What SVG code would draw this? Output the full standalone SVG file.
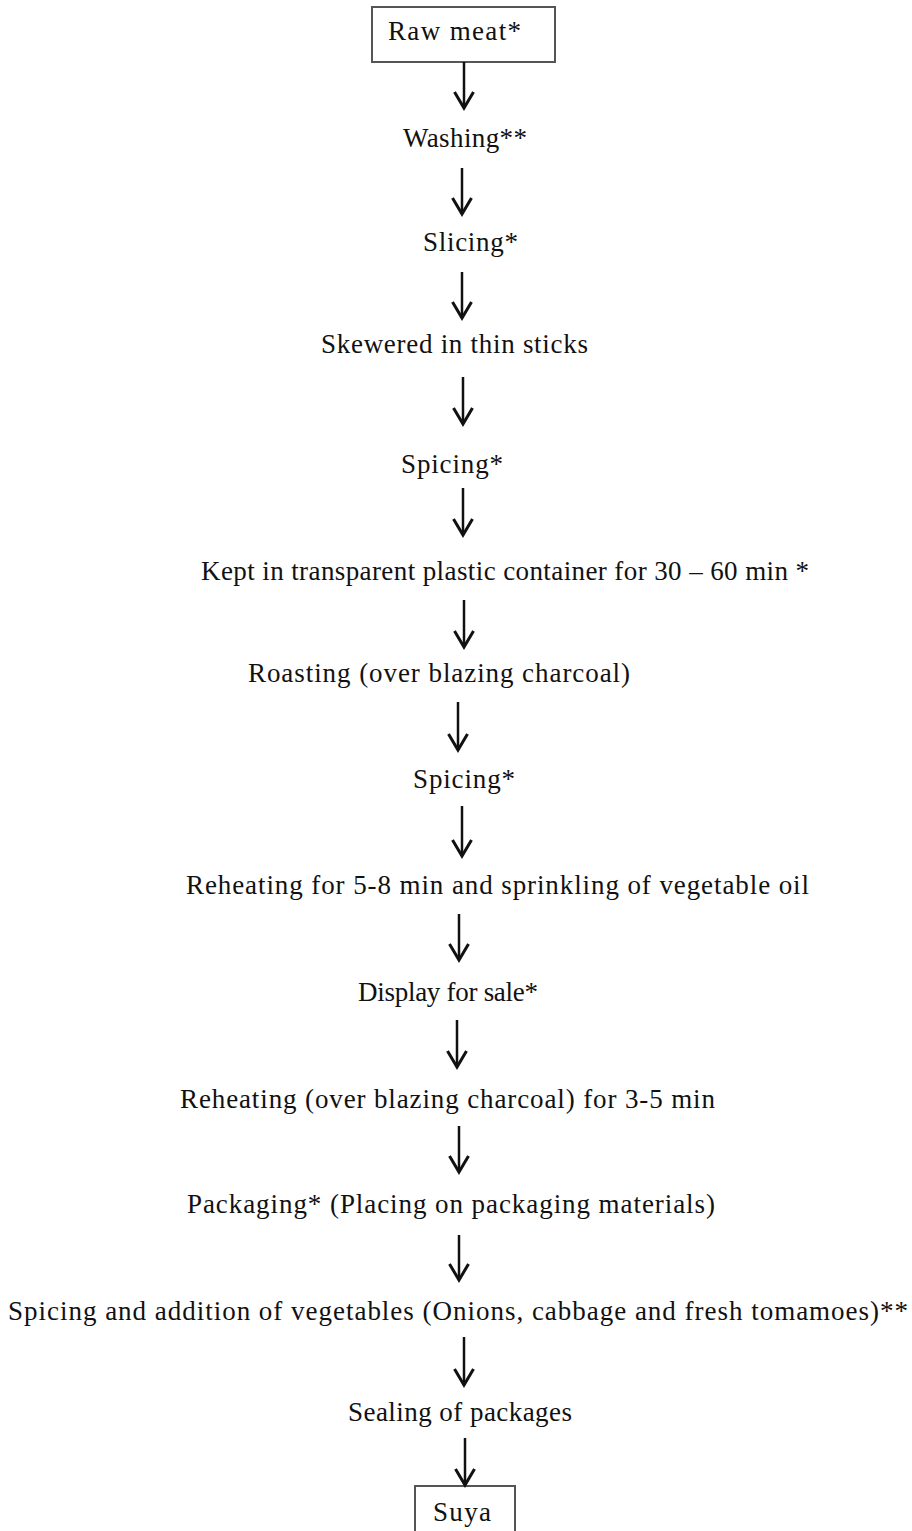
<svg xmlns="http://www.w3.org/2000/svg" width="912" height="1531" viewBox="0 0 912 1531">
<style>
  .t { font-family: "Liberation Serif", "Times New Roman", serif; font-size: 27px; fill: #111; }
  .box { fill: #fff; stroke: #555; stroke-width: 2; }
  .arr { stroke: #111; stroke-width: 2.5; fill: none; marker-end: url(#ah); }
</style>
<defs>
  <marker id="ah" markerUnits="userSpaceOnUse" viewBox="-18 -11 20 22" refX="0" refY="0" markerWidth="20" markerHeight="22" orient="auto" overflow="visible">
    <path d="M-16,-9.5 L0,0 L-16,9.5" fill="none" stroke="#111" stroke-width="3" stroke-linejoin="miter"/>
  </marker>
</defs>
<rect width="912" height="1531" fill="#fff"/>
<g id="n1"><rect class="box" x="372" y="7" width="183" height="55"/><text class="t" x="388" y="40" textLength="133" lengthAdjust="spacing">Raw meat*</text></g>
<g id="n2"><text class="t" x="403" y="147" textLength="124" lengthAdjust="spacing">Washing**</text></g>
<g id="n3"><text class="t" x="423" y="251" textLength="95" lengthAdjust="spacing">Slicing*</text></g>
<g id="n4"><text class="t" x="321" y="353" textLength="267" lengthAdjust="spacing">Skewered in thin sticks</text></g>
<g id="n5"><text class="t" x="401" y="473" textLength="102" lengthAdjust="spacing">Spicing*</text></g>
<g id="n6"><text class="t" x="201" y="580" textLength="608" lengthAdjust="spacing">Kept in transparent plastic container for 30 – 60 min *</text></g>
<g id="n7"><text class="t" x="248" y="682" textLength="382" lengthAdjust="spacing">Roasting (over blazing charcoal)</text></g>
<g id="n8"><text class="t" x="413" y="788" textLength="102" lengthAdjust="spacing">Spicing*</text></g>
<g id="n9"><text class="t" x="186" y="894" textLength="623" lengthAdjust="spacing">Reheating for 5-8 min and sprinkling of vegetable oil</text></g>
<g id="n10"><text class="t" x="358" y="1001" textLength="180" lengthAdjust="spacing">Display for sale*</text></g>
<g id="n11"><text class="t" x="180" y="1108" textLength="535" lengthAdjust="spacing">Reheating (over blazing charcoal) for 3-5 min</text></g>
<g id="n12"><text class="t" x="187" y="1213" textLength="528" lengthAdjust="spacing">Packaging* (Placing on packaging materials)</text></g>
<g id="n13"><text class="t" x="8" y="1320" textLength="900" lengthAdjust="spacing">Spicing and addition of vegetables (Onions, cabbage and fresh tomamoes)**</text></g>
<g id="n14"><text class="t" x="348" y="1421" textLength="224" lengthAdjust="spacing">Sealing of packages</text></g>
<g id="n15"><rect class="box" x="415" y="1486" width="100" height="60"/><text class="t" x="433" y="1521" textLength="58" lengthAdjust="spacing">Suya</text></g>
<g id="connectors">
  <line class="arr" x1="464" y1="62" x2="464" y2="108"/>
  <line class="arr" x1="462" y1="168" x2="462" y2="214"/>
  <line class="arr" x1="462" y1="272" x2="462" y2="318"/>
  <line class="arr" x1="463" y1="377" x2="463" y2="424"/>
  <line class="arr" x1="463" y1="488" x2="463" y2="535"/>
  <line class="arr" x1="464" y1="600" x2="464" y2="647"/>
  <line class="arr" x1="458" y1="702" x2="458" y2="750"/>
  <line class="arr" x1="462" y1="806" x2="462" y2="856"/>
  <line class="arr" x1="459" y1="914" x2="459" y2="960"/>
  <line class="arr" x1="457" y1="1020" x2="457" y2="1067"/>
  <line class="arr" x1="459" y1="1126" x2="459" y2="1172"/>
  <line class="arr" x1="459" y1="1235" x2="459" y2="1280"/>
  <line class="arr" x1="464" y1="1337" x2="464" y2="1385"/>
  <line class="arr" x1="465" y1="1438" x2="465" y2="1485"/>
</g>
</svg>
